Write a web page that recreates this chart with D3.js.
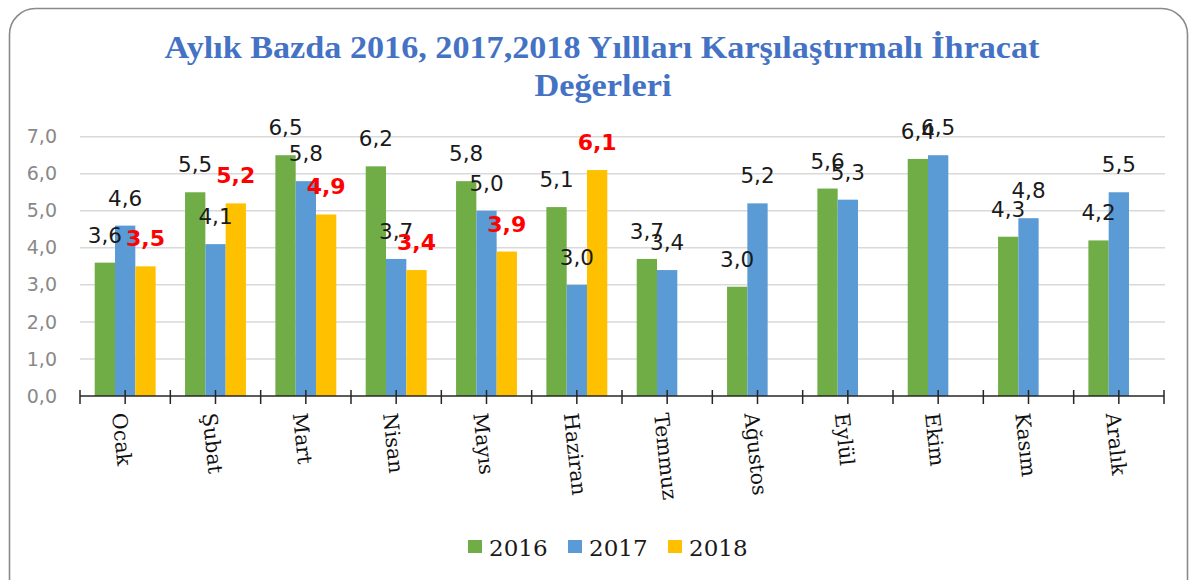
<!DOCTYPE html>
<html>
<head>
<meta charset="utf-8">
<script src="https://cdn.jsdelivr.net/npm/d3@7"></script>
<style>
  body { margin: 0; background: #fff; }
  svg { display: block; }
</style>
</head>
<body>
<div class="chart"></div>
<script>
"use strict";

var months = ["Ocak", "Şubat", "Mart", "Nisan", "Mayıs", "Haziran", "Temmuz", "Ağustos", "Eylül", "Ekim", "Kasım", "Aralık"];
var years = ["2016", "2017", "2018"];
var values2016 = [3.6, 5.5, 6.5, 6.2, 5.8, 5.1, 3.7, 2.95, 5.6, 6.4, 4.3, 4.2];
var values2017 = [4.6, 4.1, 5.8, 3.7, 5.0, 3.0, 3.4, 5.2, 5.3, 6.5, 4.8, 5.5];
var values2018 = [3.5, 5.2, 4.9, 3.4, 3.9, 6.1, null, null, null, null, null, null];
var yTicks = [0, 1, 2, 3, 4, 5, 6, 7];
var titleLines = ["Aylık Bazda 2016, 2017,2018 Yıllları Karşılaştırmalı İhracat", "Değerleri"];

var colors = { "2016": "#70AD47", "2017": "#5B9BD5", "2018": "#FFC000" };

var W = 1189, H = 580;
var plotLeft = 80, plotRight = 1164, plotTop = 136.7, plotBottom = 396;

var svg = d3.select(".chart").append("svg").attr("width", W).attr("height", H);

// chart frame with rounded corners (bottom runs off the picture)
svg.append("rect")
    .attr("x", 9.5).attr("y", 8.5)
    .attr("width", 1178).attr("height", 620)
    .attr("rx", 26).attr("ry", 26)
    .attr("fill", "none")
    .attr("stroke", "#8a8a8a")
    .attr("stroke-width", 1.6);

// title
var title = svg.append("g").attr("fill", "#4472C4")
    .attr("font-family", "'Liberation Serif', serif")
    .attr("font-weight", "bold")
    .attr("font-size", 32);
title.append("text").attr("x", 602).attr("y", 58)
    .attr("text-anchor", "middle")
    .attr("textLength", 875).attr("lengthAdjust", "spacingAndGlyphs")
    .text(titleLines[0]);
title.append("text").attr("x", 603).attr("y", 96)
    .attr("text-anchor", "middle")
    .attr("textLength", 137).attr("lengthAdjust", "spacingAndGlyphs")
    .text(titleLines[1]);

var x0 = d3.scaleBand().domain(months).range([plotLeft, plotRight]).padding(0);
var x1 = d3.scaleBand().domain(years).range([0, x0.bandwidth()]).paddingInner(0).paddingOuter(0.725);
var y = d3.scaleLinear().domain([0, 7]).range([plotBottom, plotTop]);

// gridlines
svg.append("g").selectAll("line").data(yTicks.slice(1)).enter().append("line")
    .attr("x1", plotLeft).attr("x2", plotRight + 1)
    .attr("y1", function (d) { return y(d); })
    .attr("y2", function (d) { return y(d); })
    .attr("stroke", "#D9D9D9").attr("stroke-width", 1.5);

// y axis labels
var yAxis = svg.append("g").attr("transform", "translate(" + plotLeft + ",0)")
    .call(d3.axisLeft(y).tickValues(yTicks).tickSize(0).tickPadding(23)
        .tickFormat(function (d) { return d.toFixed(1).replace(".", ","); }));
yAxis.select(".domain").remove();
yAxis.selectAll("text")
    .attr("font-family", "'DejaVu Sans', sans-serif")
    .attr("font-size", 19)
    .attr("fill", "#898989");

// bars
var series = [
    { year: "2016", values: values2016 },
    { year: "2017", values: values2017 },
    { year: "2018", values: values2018 }
];

var barData = [];
series.forEach(function (s) {
    s.values.forEach(function (v, i) {
        if (v !== null) barData.push({ year: s.year, month: months[i], value: v });
    });
});

svg.append("g").selectAll("rect").data(barData).enter().append("rect")
    .attr("x", function (d) { return x0(d.month) + x1(d.year); })
    .attr("y", function (d) { return y(d.value); })
    .attr("width", x1.bandwidth())
    .attr("height", function (d) { return plotBottom - y(d.value); })
    .attr("fill", function (d) { return colors[d.year]; });

// x axis line and ticks (boundaries and centres)
svg.append("line")
    .attr("x1", plotLeft).attr("x2", plotRight)
    .attr("y1", plotBottom).attr("y2", plotBottom)
    .attr("stroke", "#262626").attr("stroke-width", 1.5);

var tickPositions = [];
months.forEach(function (m) {
    tickPositions.push(x0(m));
    tickPositions.push(x0(m) + x0.bandwidth() / 2);
});
tickPositions.push(plotRight);

svg.append("g").selectAll("line").data(tickPositions).enter().append("line")
    .attr("x1", function (d) { return d; }).attr("x2", function (d) { return d; })
    .attr("y1", plotBottom - 6).attr("y2", plotBottom + 8)
    .attr("stroke", "#262626").attr("stroke-width", 1.5);

// month labels, turned down
svg.append("g").selectAll("text").data(months).enter().append("text")
    .attr("transform", function (m) {
        return "translate(" + (x0(m) + x0.bandwidth() / 2 - 6) + "," + (plotBottom + 17) + ") rotate(84)";
    })
    .attr("dy", "0.35em")
    .attr("font-family", "'DejaVu Serif', serif")
    .attr("font-size", 20.5)
    .attr("fill", "#111")
    .text(function (m) { return m; });

// value labels
svg.append("g").selectAll("text").data(barData).enter().append("text")
    .attr("x", function (d) { return x0(d.month) + x1(d.year) + x1.bandwidth() / 2; })
    .attr("y", function (d) { return y(d.value) - 20; })
    .attr("text-anchor", "middle")
    .attr("font-family", "'DejaVu Sans', sans-serif")
    .attr("font-size", function (d) { return d.year === "2018" ? 22 : 21.5; })
    .attr("font-weight", function (d) { return d.year === "2018" ? "bold" : "normal"; })
    .attr("fill", function (d) { return d.year === "2018" ? "#FF0000" : "#1a1a1a"; })
    .text(function (d) { return d.value.toFixed(1).replace(".", ","); });

// legend
var legendX = [468, 568, 668];
var legend = svg.append("g").selectAll("g").data(years).enter().append("g")
    .attr("transform", function (d, i) { return "translate(" + legendX[i] + ",540)"; });
legend.append("rect").attr("width", 14).attr("height", 13)
    .attr("fill", function (d) { return colors[d]; });
legend.append("text").attr("x", 21).attr("y", 15.5)
    .attr("font-family", "'DejaVu Serif', serif")
    .attr("font-size", 23)
    .attr("fill", "#1a1a1a")
    .text(function (d) { return d; });
</script>
</body>
</html>
